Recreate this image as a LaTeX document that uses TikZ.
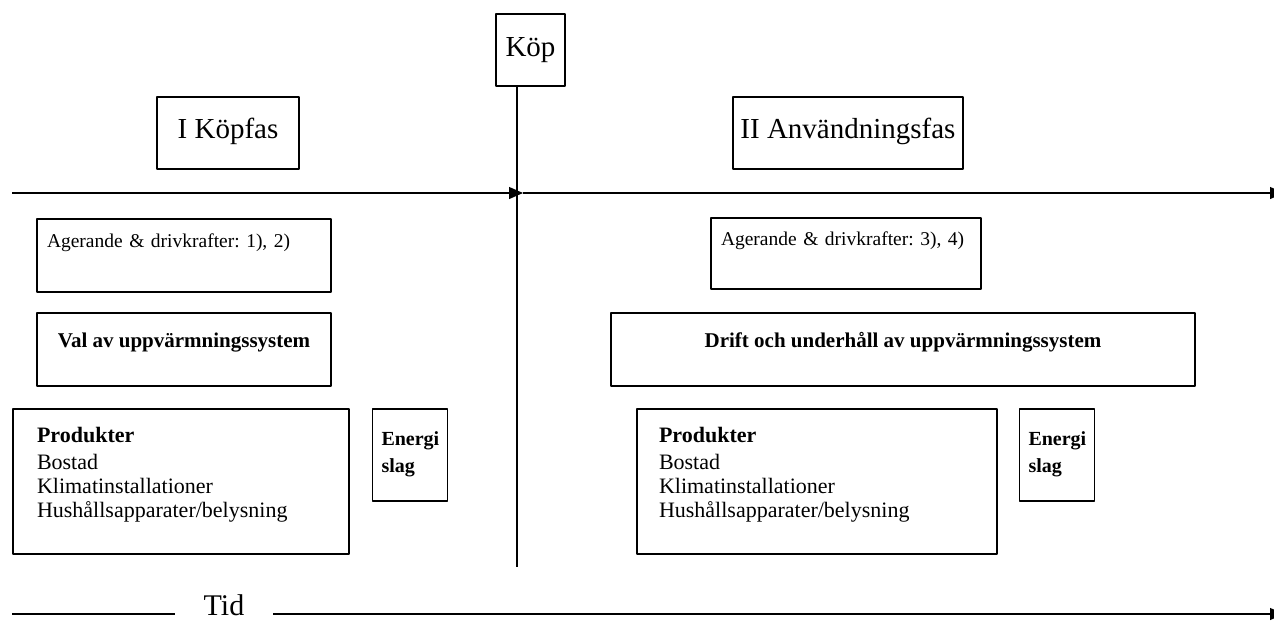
\documentclass[tikz,border=0pt]{standalone}
\usepackage{fontspec}
\setmainfont{Liberation Serif}
\usetikzlibrary{arrows.meta}
\frenchspacing
\begin{document}
\begin{tikzpicture}[x=1pt, y=-1pt, line join=round, >={Triangle[length=14pt,width=12pt]},
	font=\fontsize{22}{24}\selectfont,
	boks/.style={draw, line width=1.2pt, inner sep=0pt},
	rubrik/.style={boks, font=\fontsize{29}{32}\selectfont},
	fet/.style={font=\fontsize{21}{27}\selectfont\bfseries},
	agera/.style={boks, font=\fontsize{19.5}{24}\selectfont, align=left, inner xsep=10pt, text depth=29pt}]
	\def\yax{193} \def\ytid{614} % tidsaxlar
	\def\xmin{12} \def\xmax{1284}
	\useasboundingbox (0,0) rectangle (1274,633);
	% koppunkt
	\node[rubrik, minimum width=69pt, minimum height=72pt, text depth=6pt] (kop) at (530.5,50) {Köp};
	\node[rubrik, minimum width=142pt, minimum height=72pt, text depth=10pt] (fas1) at (228,133) {I Köpfas};
	\node[rubrik, minimum width=230pt, minimum height=72pt, text depth=10pt] (fas2) at (848,133) {II Användningsfas};
	% axlar
	\coordinate (ax0) at (\xmin,\yax);
	\coordinate (axm) at (523,\yax);
	\coordinate (ax1) at (\xmax,\yax);
	\coordinate (vb) at (517,567);
	\draw[line width=1.2pt, ->] (ax0) -- (axm);
	\draw[line width=1.2pt, ->] (axm) -- (ax1);
	\draw[line width=1.2pt] (vb |- kop.south) -- (vb);
	% I Kopfas
	\node[agera, text width=274pt, minimum height=73pt] (age1) at (184,255.5) {\mbox{Agerande \& drivkrafter: 1), 2)}};
	\node[boks, fet, minimum width=294pt, minimum height=73pt, text depth=19pt] (val) at (184,349.5) {Val av uppvärmningssystem};
	\node[boks, minimum height=145pt, align=left, inner xsep=24pt, text width=288pt, text depth=94pt] (prod1) at (181,481.5)
		{\textbf{Produkter}\\[3pt]Bostad\\Klimatinstallationer\\Hushållsapparater/belysning};
	\node[boks, fet, font=\fontsize{20}{27}\selectfont\bfseries, minimum height=92pt, text depth=32pt, align=left, inner xsep=9pt, text width=57pt] (energi1) at (410,455) {Energi\\slag};
	% II Anvandningsfas
	\node[agera, text width=250pt, minimum height=71pt] (age2) at (846,253.5) {\mbox{Agerande \& drivkrafter: 3), 4)}};
	\node[boks, fet, minimum width=584pt, minimum height=73pt, text depth=19pt] (drift) at (903,349.5) {Drift och underhåll av uppvärmningssystem};
	\node[boks, minimum height=145pt, align=left, inner xsep=22pt, text width=316pt, text depth=94pt] (prod2) at (817,481.5)
		{\textbf{Produkter}\\[3pt]Bostad\\Klimatinstallationer\\Hushållsapparater/belysning};
	\node[boks, fet, font=\fontsize{20}{27}\selectfont\bfseries, minimum height=92pt, text depth=32pt, align=left, inner xsep=9pt, text width=57pt] (energi2) at (1057,455) {Energi\\slag};
	% tid
	\node[font=\fontsize{30}{34}\selectfont, minimum width=98pt, inner sep=0pt] (tid) at (224,605) {Tid};
	\coordinate (t0) at (\xmin,\ytid);
	\coordinate (t1) at (\xmax,\ytid);
	\draw[line width=1.2pt] (t0) -- (t0 -| tid.west);
	\draw[line width=1.2pt, ->] (t1 -| tid.east) -- (t1);
\end{tikzpicture}
\end{document}
